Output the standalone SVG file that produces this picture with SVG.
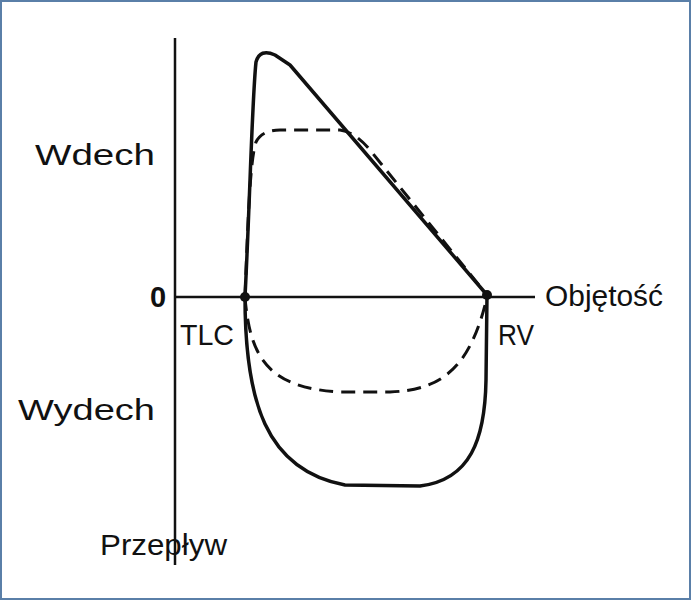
<svg xmlns="http://www.w3.org/2000/svg" width="691" height="600" viewBox="0 0 691 600">
<style>
text{font-family:"Liberation Sans",Arial,sans-serif;font-size:29px;fill:#111}
.c{fill:none;stroke:#111;stroke-width:3.5;stroke-linejoin:round}
.d{fill:none;stroke:#111;stroke-width:3;stroke-dasharray:14 8}
.a{stroke:#111;stroke-width:2.5}
</style>
<rect x="1" y="1" width="689" height="598" fill="#fff" stroke="#5a7fa8" stroke-width="2"/>
<g id="axes">
<line class="a" x1="175" y1="38" x2="175" y2="565"/>
<line class="a" x1="175" y1="297" x2="535" y2="297"/>
</g>
<g id="curves">
<path class="c" d="M245 297 C250 200 252 100 256 62 Q260 48 275 55 L290 65 L487 295"/>
<path class="c" d="M245 297 C245 400 265 470 345 485 L420 486 C470 480 485 440 486 380 L487 295"/>
<path class="d" d="M245 297 C248 220 250 160 256 142 Q262 130 280 130 L340 130 Q355 132 370 150 L487 295"/>
<path class="d" d="M245 297 C250 360 270 388 340 392 L390 392 C440 390 470 370 487 297"/>
<circle cx="245" cy="297" r="5" fill="#111"/>
<circle cx="487" cy="295" r="5" fill="#111"/>
</g>
<g id="labels">
<text x="150" y="307" font-weight="bold" font-size="24">0</text>
<text x="545" y="306" textLength="118" lengthAdjust="spacingAndGlyphs">Objętość</text>
<text x="180" y="345" textLength="54" lengthAdjust="spacingAndGlyphs">TLC</text>
<text x="498" y="345" textLength="36" lengthAdjust="spacingAndGlyphs">RV</text>
<text x="35" y="165" textLength="120" lengthAdjust="spacingAndGlyphs">Wdech</text>
<text x="18" y="420" textLength="137" lengthAdjust="spacingAndGlyphs">Wydech</text>
<text x="100" y="555" textLength="127" lengthAdjust="spacingAndGlyphs">Przepływ</text>
</g>
</svg>
